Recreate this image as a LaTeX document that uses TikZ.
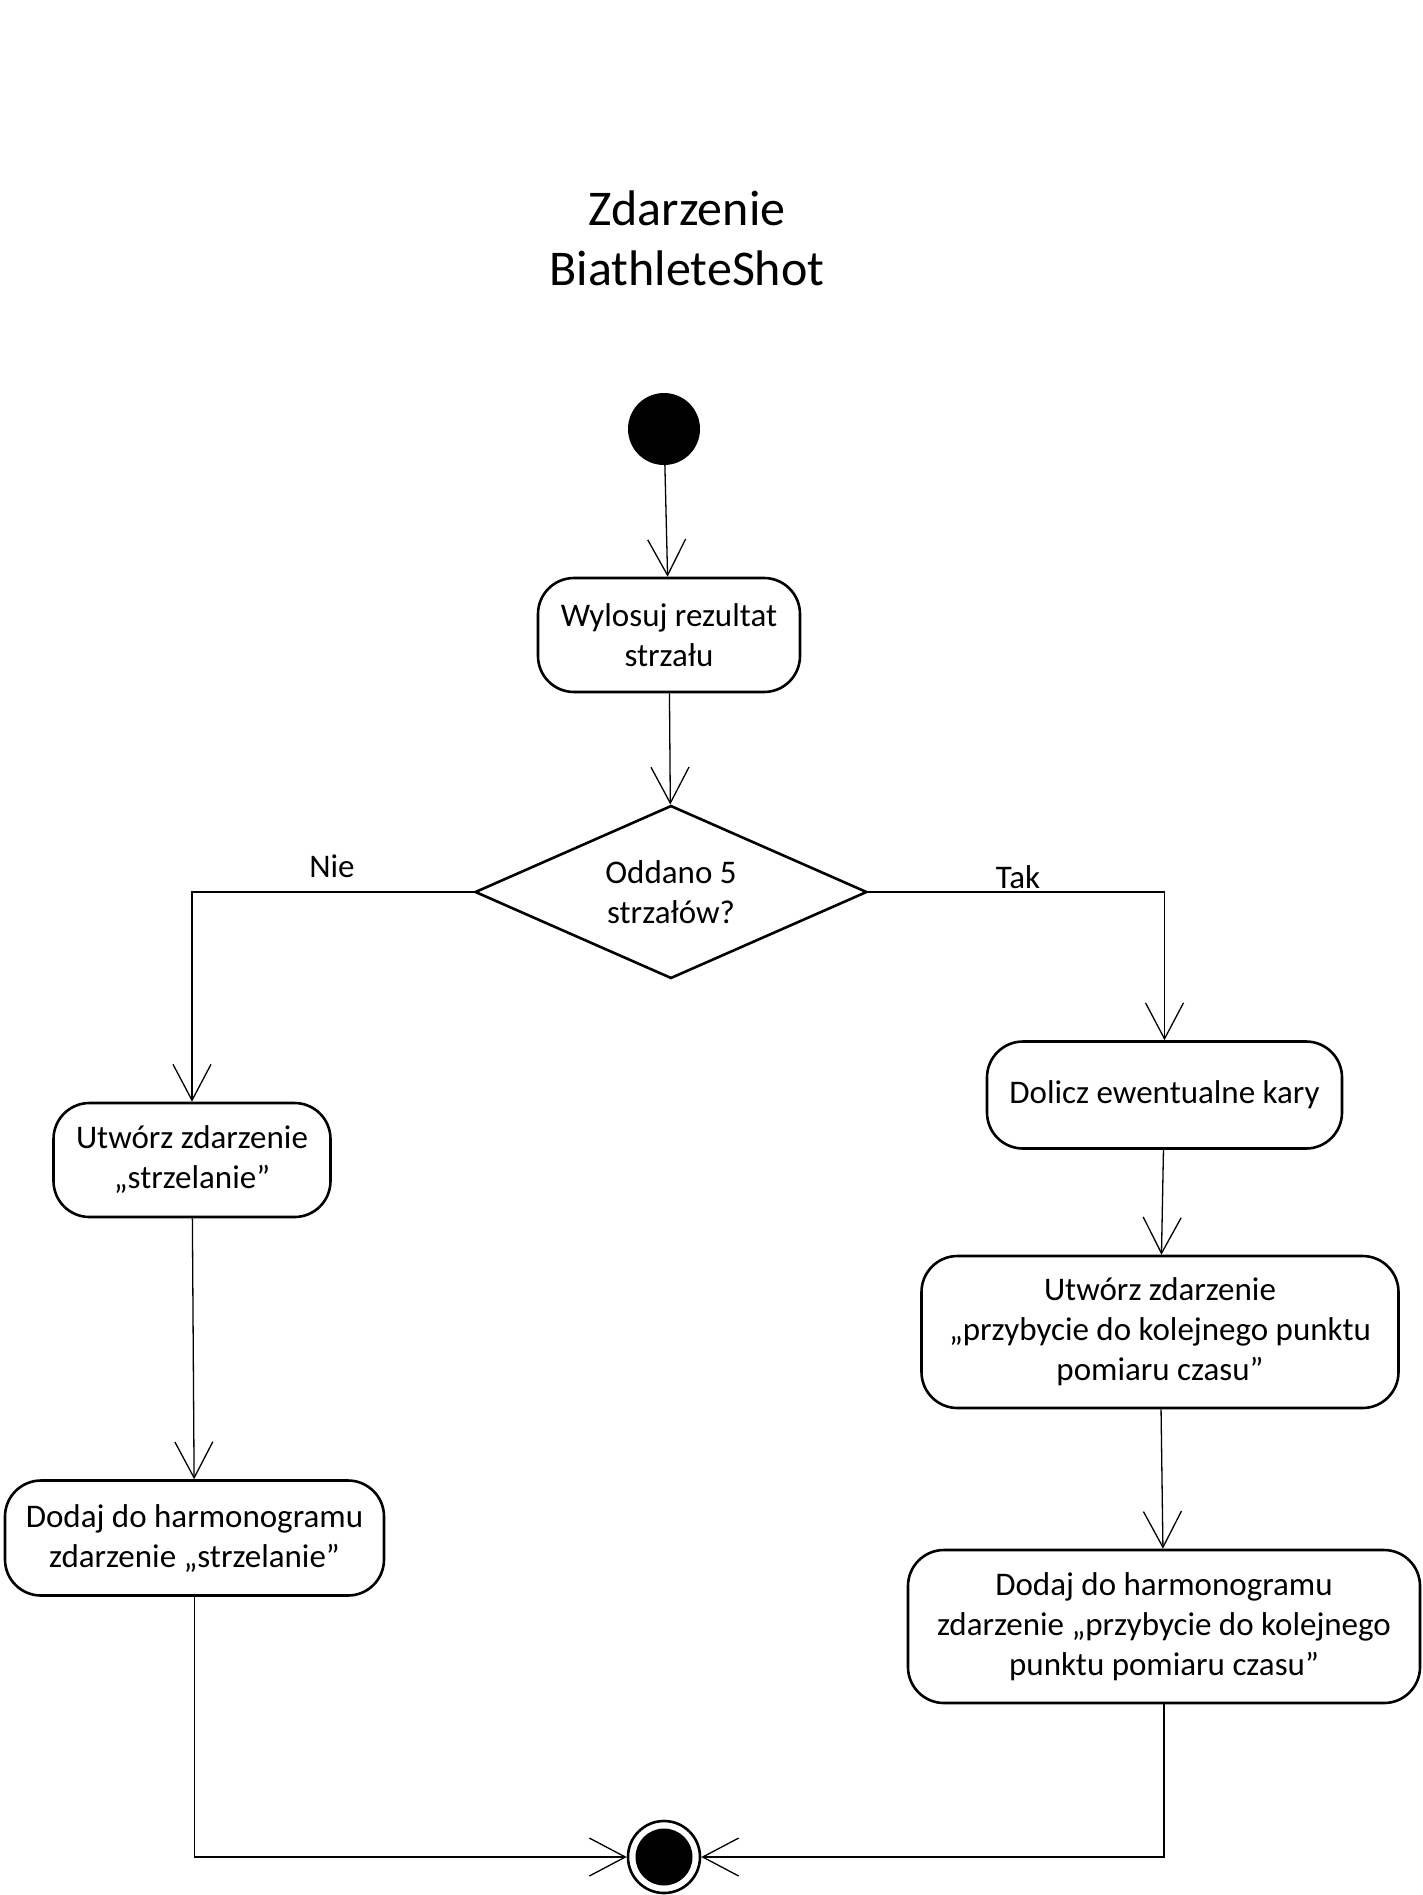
\documentclass[tikz,border=0pt]{standalone}
\usepackage{fontspec}
\setmainfont{Carlito}
\usetikzlibrary{shapes.geometric,arrows.meta}
\begin{document}
\begin{tikzpicture}[x=1pt,y=-1pt,
  body/.style={font=\fontsize{33}{40}\selectfont},
  action/.style={draw, line width=2.6pt, rounded corners=36pt, align=center, inner sep=0pt, body},
  decision/.style={draw, line width=2.6pt, diamond, aspect=2.27, inner sep=0pt, minimum width=392pt, minimum height=173pt, align=center, body},
  flow/.style={line width=1.3pt, -{Straight Barb[length=36pt,width=38pt]}},
  plain/.style={line width=1.3pt},
  lbl/.style={body}
]
\useasboundingbox (0,0) rectangle (1423,1895);

\node[align=center, font=\fontsize{50}{60}\selectfont] (title) at (687,238) {Zdarzenie\\BiathleteShot};

\node[circle, fill=black, minimum size=72pt, inner sep=0pt] (init) at (664,429) {};
\node[action, minimum width=262pt, minimum height=114pt] (wyl) at (669,635) {Wylosuj rezultat\\strzału};
\node[decision] (dec) at (671,892) {Oddano 5\\strzałów?};

\node[action, minimum width=277pt, minimum height=114pt] (l1) at (192,1160) {Utwórz zdarzenie\\„strzelanie”};
\node[action, minimum width=379pt, minimum height=115pt] (l2) at (194.5,1538) {Dodaj do harmonogramu\\zdarzenie „strzelanie”};

\node[action, minimum width=355pt, minimum height=107pt] (r1) at (1164.5,1095) {Dolicz ewentualne kary};
\node[action, minimum width=477pt, minimum height=152pt] (r2) at (1160,1332) {Utwórz zdarzenie\\„przybycie do kolejnego punktu\\pomiaru czasu”};
\node[action, minimum width=512pt, minimum height=153pt] (r3) at (1164,1626.5) {Dodaj do harmonogramu\\zdarzenie „przybycie do kolejnego\\punktu pomiaru czasu”};

\node[circle, draw, line width=2.6pt, minimum size=72pt, inner sep=0pt,
  path picture={\fill[black] (path picture bounding box.center) circle (28.5pt);}] (fin) at (664,1857) {};

\draw[flow] (init) -- (wyl);
\draw[flow] (wyl) -- (dec);
\draw[flow] (dec.west) -| (l1);
\draw[flow] (dec.east) -| (r1);
\draw[flow] (l1) -- (l2);
\draw[flow] (r1) -- (r2);
\draw[flow] (r2) -- (r3);
\draw[flow] (l2) |- (fin);
\draw[flow] (r3) |- (fin);

\node[lbl] (nie) at (332,866) {Nie};
\node[lbl] (tak) at (1018,877) {Tak};
\end{tikzpicture}
\end{document}
